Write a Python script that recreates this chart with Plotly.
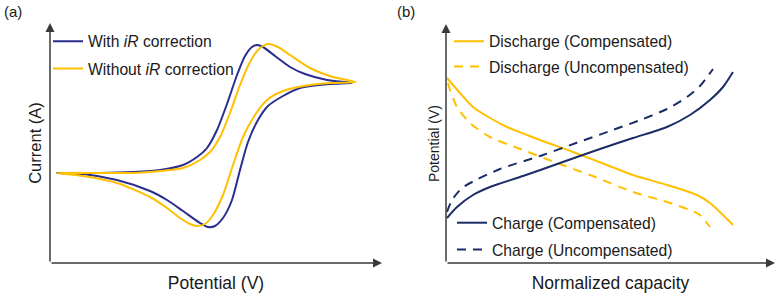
import plotly.graph_objects as go

# ---------------- Panel (a): cyclic voltammograms (arbitrary units) ----------------
cv_with_ir_potential = [7, 50, 83, 110, 133, 147, 157, 167, 177, 187, 195, 202, 207, 213, 225, 240, 255, 277, 302,
                        280, 250, 233, 218, 208, 198, 190, 182, 173, 165, 158, 150, 133, 117, 100, 67, 33, 7]
cv_with_ir_current = [90, 90, 91, 93, 98, 106, 115, 133, 159, 188, 207, 216, 218, 216, 207, 196, 189, 183, 180,
                      179, 175, 167, 157, 143, 121, 93, 63, 45, 37, 36, 40, 52, 63, 72, 83, 89, 90]

cv_without_ir_potential = [7, 50, 83, 110, 133, 150, 160, 170, 180, 190, 200, 208, 213, 218, 228, 240, 260, 283, 306,
                           280, 260, 233, 217, 205, 193, 183, 173, 163, 155, 147, 140, 130, 117, 100, 67, 33, 7]
cv_without_ir_current = [90, 90, 90, 92, 95, 103, 111, 126, 150, 178, 201, 213, 217, 219, 216, 208, 195, 186, 181,
                         180, 178, 172, 163, 148, 126, 98, 68, 48, 39, 37, 39, 45, 55, 66, 80, 87, 90]

# ---------------- Panel (b): charge / discharge curves (arbitrary units) ----------------
dis_comp_capacity = [1, 14, 27, 44, 61, 94, 127, 161, 187, 221, 251, 264, 277, 287]
dis_comp_potential = [185, 170, 156, 145, 136, 123, 111, 98, 88, 78, 68, 60, 48, 38]

dis_uncomp_capacity = [2, 4, 11, 24, 44, 77, 111, 144, 187, 221, 244, 254, 264]
dis_uncomp_potential = [180, 173, 156, 140, 126, 113, 100, 88, 71, 61, 53, 48, 36]

chg_comp_capacity = [1, 11, 27, 44, 77, 114, 154, 187, 221, 244, 264, 277, 287]
chg_comp_potential = [45, 56, 68, 76, 87, 100, 114, 125, 136, 148, 163, 176, 191]

chg_uncomp_capacity = [1, 6, 16, 30, 54, 97, 130, 164, 197, 221, 241, 254, 267]
chg_uncomp_potential = [51, 63, 75, 83, 94, 108, 120, 132, 144, 154, 166, 177, 194]

A_X_MAX, A_Y_MAX = 332, 240
B_X_MAX, B_Y_MAX = 329, 239

BLUE_A = "#2B2E8C"
NAVY_B = "#1B2D66"
YELLOW = "#FFC000"
AXIS_C = "#3a3a3a"
TEXT_C = "#1a1a1a"
FONT = "Liberation Sans, Arial, sans-serif"

W, H = 783, 293

fig = go.Figure()

fig.add_trace(go.Scatter(x=cv_with_ir_potential, y=cv_with_ir_current, mode="lines",
                         line=dict(color=BLUE_A, width=2, shape="spline", smoothing=0.7),
                         name="With <i>iR</i> correction", legend="legend", legendgroup="a1",
                         xaxis="x", yaxis="y"))
fig.add_trace(go.Scatter(x=cv_without_ir_potential, y=cv_without_ir_current, mode="lines",
                         line=dict(color=YELLOW, width=2, shape="spline", smoothing=0.7),
                         name="Without <i>iR</i> correction", legend="legend", legendgroup="a2",
                         xaxis="x", yaxis="y"))

fig.add_trace(go.Scatter(x=dis_comp_capacity, y=dis_comp_potential, mode="lines",
                         line=dict(color=YELLOW, width=2, shape="spline", smoothing=0.7),
                         name="Discharge (Compensated)", legend="legend2", legendgroup="b1",
                         xaxis="x2", yaxis="y2"))
fig.add_trace(go.Scatter(x=dis_uncomp_capacity, y=dis_uncomp_potential, mode="lines",
                         line=dict(color=YELLOW, width=2, dash="9px,7px", shape="spline", smoothing=0.7),
                         name="Discharge (Uncompensated)", legend="legend2", legendgroup="b2",
                         xaxis="x2", yaxis="y2"))
fig.add_trace(go.Scatter(x=chg_comp_capacity, y=chg_comp_potential, mode="lines",
                         line=dict(color=NAVY_B, width=2, shape="spline", smoothing=0.7),
                         name="Charge (Compensated)", legend="legend3", legendgroup="c1",
                         xaxis="x2", yaxis="y2"))
fig.add_trace(go.Scatter(x=chg_uncomp_capacity, y=chg_uncomp_potential, mode="lines",
                         line=dict(color=NAVY_B, width=2, dash="9px,7px", shape="spline", smoothing=0.7),
                         name="Charge (Uncompensated)", legend="legend3", legendgroup="c2",
                         xaxis="x2", yaxis="y2"))

def px_x(p):
    return p / W

def px_y(p):
    return 1 - p / H

ax_common = dict(showgrid=False, zeroline=False, showline=False, showticklabels=False,
                 ticks="", fixedrange=True, automargin=False)

def leg(x, y, gap):
    return dict(x=x, y=y, font=dict(family=FONT, size=15.7, color=TEXT_C), bgcolor="rgba(0,0,0,0)",
                borderwidth=0, tracegroupgap=gap, traceorder="grouped",
                xanchor="left", yanchor="top", itemclick=False, itemdoubleclick=False)

fig.update_layout(
    width=W, height=H, autosize=False,
    margin=dict(l=0, r=0, t=0, b=0),
    paper_bgcolor="white", plot_bgcolor="white",
    font=dict(family=FONT, color=TEXT_C),
    xaxis=dict(domain=[px_x(50), px_x(382)], range=[0, A_X_MAX], anchor="y",
               title=dict(text="Potential (V)", font=dict(size=17.5, family=FONT, color=TEXT_C), standoff=15),
               **ax_common),
    yaxis=dict(domain=[px_y(263), px_y(23)], range=[0, A_Y_MAX], anchor="x",
               title=dict(text="Current (A)", font=dict(size=16.5, family=FONT, color=TEXT_C), standoff=3),
               **ax_common),
    xaxis2=dict(domain=[px_x(446), px_x(775)], range=[0, B_X_MAX], anchor="y2",
                title=dict(text="Normalized capacity", font=dict(size=17.5, family=FONT, color=TEXT_C), standoff=15),
                **ax_common),
    yaxis2=dict(domain=[px_y(263), px_y(24)], range=[0, B_Y_MAX], anchor="x2",
                title=dict(text="Potential (V)", font=dict(size=14, family=FONT, color=TEXT_C), standoff=2),
                **ax_common),
    legend=leg(px_x(48), px_y(24.5), 4),
    legend2=leg(px_x(449), px_y(24.5), 2),
    legend3=leg(px_x(452), px_y(206), 3.5),
    showlegend=True,
)

# axis arrows
arrows = [
    dict(x=A_X_MAX, y=0, ax=0, ay=0, xref="x", yref="y", axref="x", ayref="y"),
    dict(x=0, y=A_Y_MAX, ax=0, ay=0, xref="x", yref="y", axref="x", ayref="y"),
    dict(x=B_X_MAX, y=0, ax=0, ay=0, xref="x2", yref="y2", axref="x2", ayref="y2"),
    dict(x=0, y=B_Y_MAX, ax=0, ay=0, xref="x2", yref="y2", axref="x2", ayref="y2"),
]
for a in arrows:
    fig.add_annotation(text="", showarrow=True, arrowhead=2, arrowsize=1.2, arrowwidth=1.5,
                       arrowcolor=AXIS_C, standoff=0, startstandoff=0, **a)

# panel labels
fig.add_annotation(text="(a)", x=px_x(2), y=px_y(1), xref="paper", yref="paper",
                   xanchor="left", yanchor="top", showarrow=False,
                   font=dict(family=FONT, size=15, color=TEXT_C))
fig.add_annotation(text="(b)", x=px_x(395), y=px_y(1), xref="paper", yref="paper",
                   xanchor="left", yanchor="top", showarrow=False,
                   font=dict(family=FONT, size=15, color=TEXT_C))

fig.write_html("out.html", config={"displayModeBar": False},
               post_script="document.body.style.margin='0px';document.body.style.overflow='hidden';")
